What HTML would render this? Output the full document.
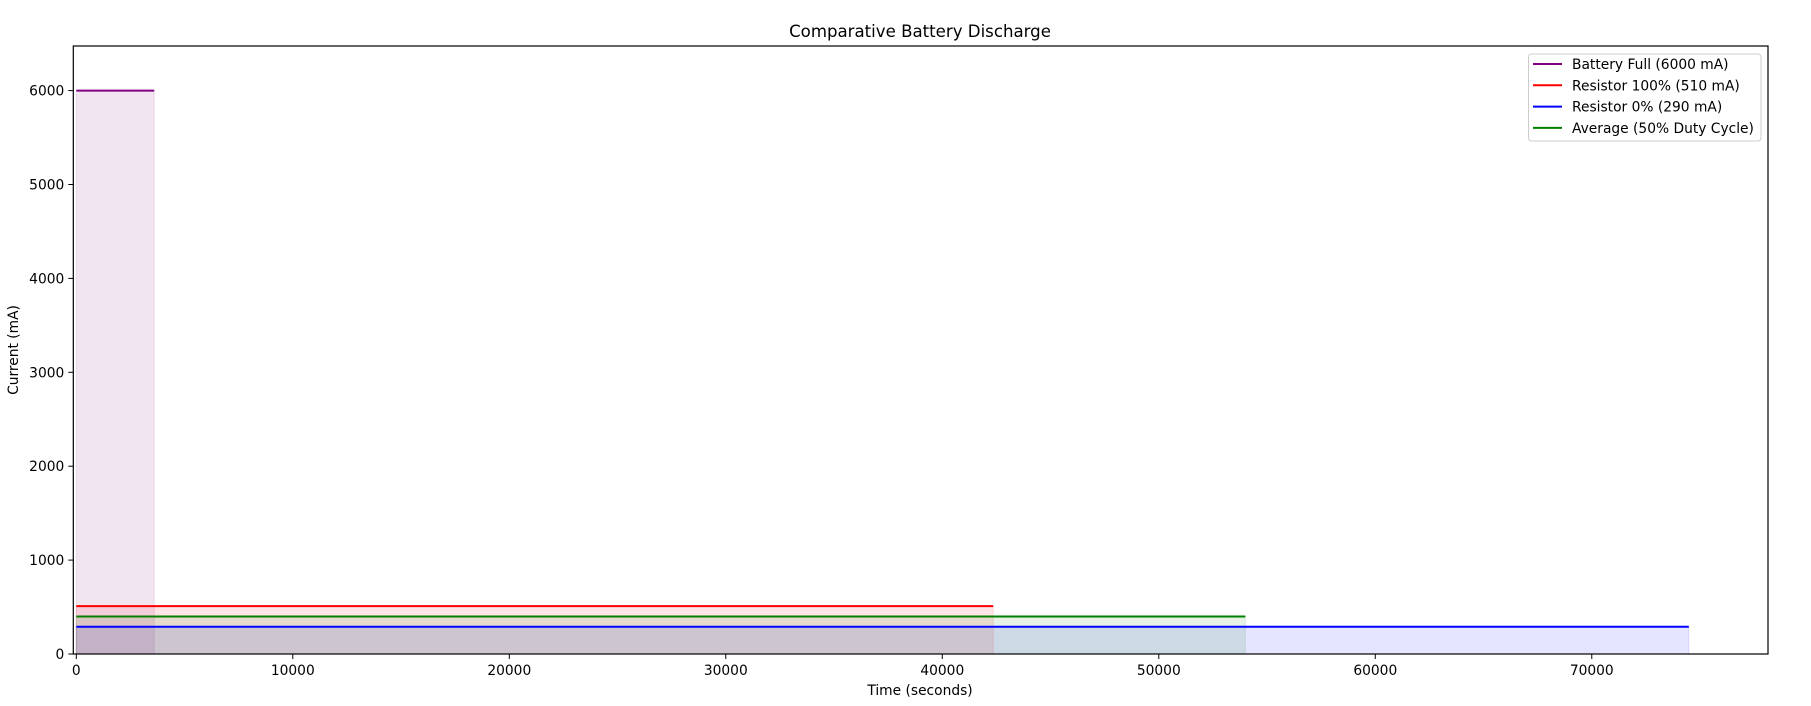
<!DOCTYPE html>
<html><head><meta charset="utf-8">
<style>
html,body{margin:0;padding:0;background:#fff;}
svg{display:block;font-family:"DejaVu Sans","Liberation Sans",sans-serif;}
</style></head>
<body>
<svg id="chart" width="1811" height="706" viewBox="0 0 1811 706" xmlns="http://www.w3.org/2000/svg">
<rect width="1811" height="706" fill="#fff"/>
<text x="920" y="37" font-size="16.6" text-anchor="middle" fill="#000">Comparative Battery Discharge</text>
<g id="fills"></g>
<g id="lines"></g>
<g id="axes"></g>
<text x="920" y="695" font-size="13.8" text-anchor="middle" fill="#000">Time (seconds)</text>
<text transform="translate(18,350) rotate(-90)" font-size="13.8" text-anchor="middle" fill="#000">Current (mA)</text>
<g id="legend"></g>
</svg>
<script>
const seriesNames = ["Battery Full (6000 mA)","Resistor 100% (510 mA)","Resistor 0% (290 mA)","Average (50% Duty Cycle)"];
const seriesCurrent = [6000, 510, 290, 400];
const seriesDuration = [3600, 42353, 74483, 54000];
const seriesColors = ["#800080","#ff0000","#0000ff","#008000"];
const xTicks = [0,10000,20000,30000,40000,50000,60000,70000];
const yTicks = [0,1000,2000,3000,4000,5000,6000];

const L=73.3,R=1768,T=46,B=654;
const xMin=-139,xMax=78140,yMin=0,yMax=6475;
const sx=v=>L+(v-xMin)/(xMax-xMin)*(R-L);
const sy=v=>B-(v-yMin)/(yMax-yMin)*(B-T);
const NS="http://www.w3.org/2000/svg";
function mk(tag,attrs,parent){const e=document.createElementNS(NS,tag);for(const k in attrs)e.setAttribute(k,attrs[k]);parent.appendChild(e);return e;}
const fills=document.getElementById('fills'),lines=document.getElementById('lines'),axes=document.getElementById('axes'),legend=document.getElementById('legend');

seriesNames.forEach((n,i)=>{
  const x0=sx(0),x1=sx(seriesDuration[i]),y=sy(seriesCurrent[i]);
  const f=mk('rect',{x:x0,y:y,width:x1-x0,height:sy(0)-y,fill:seriesColors[i],'fill-opacity':0.1,stroke:seriesColors[i],'stroke-opacity':0.1},fills);
  
  
  const l=mk('line',{x1:x0,x2:x1,y1:y,y2:y,stroke:seriesColors[i],'stroke-width':2},lines);
  
  
});

const frame=mk('rect',{x:L,y:T,width:R-L,height:B-T,fill:'none',stroke:'#000','stroke-width':1.2},axes);



xTicks.forEach(v=>{
  const x=sx(v);
  mk('line',{x1:x,x2:x,y1:B,y2:B+5,stroke:'#000','stroke-width':1},axes);
  const t=mk('text',{x:x,y:B+21,'font-size':13.8,'text-anchor':'middle',fill:'#000'},axes);
  t.textContent=v;
  
  
});
yTicks.forEach(v=>{
  const y=sy(v);
  mk('line',{x1:L-5,x2:L,y1:y,y2:y,stroke:'#000','stroke-width':1},axes);
  const t=mk('text',{x:L-9,y:y+5,'font-size':13.8,'text-anchor':'end',fill:'#000'},axes);
  t.textContent=v;
  
  
});

mk('rect',{x:1528.5,y:54,width:232.5,height:87,rx:3,fill:'#fff','fill-opacity':0.8,stroke:'#ccc','stroke-width':1},legend);
seriesNames.forEach((n,i)=>{
  const y=64+i*21.3;
  const g=mk('g',{},legend);
  
  
  mk('line',{x1:1533,x2:1562,y1:y,y2:y,stroke:seriesColors[i],'stroke-width':2},g);
  const t=mk('text',{x:1572,y:y+5,'font-size':13.8,fill:'#000'},g);
  t.textContent=n;
});
</script>
</body></html>
